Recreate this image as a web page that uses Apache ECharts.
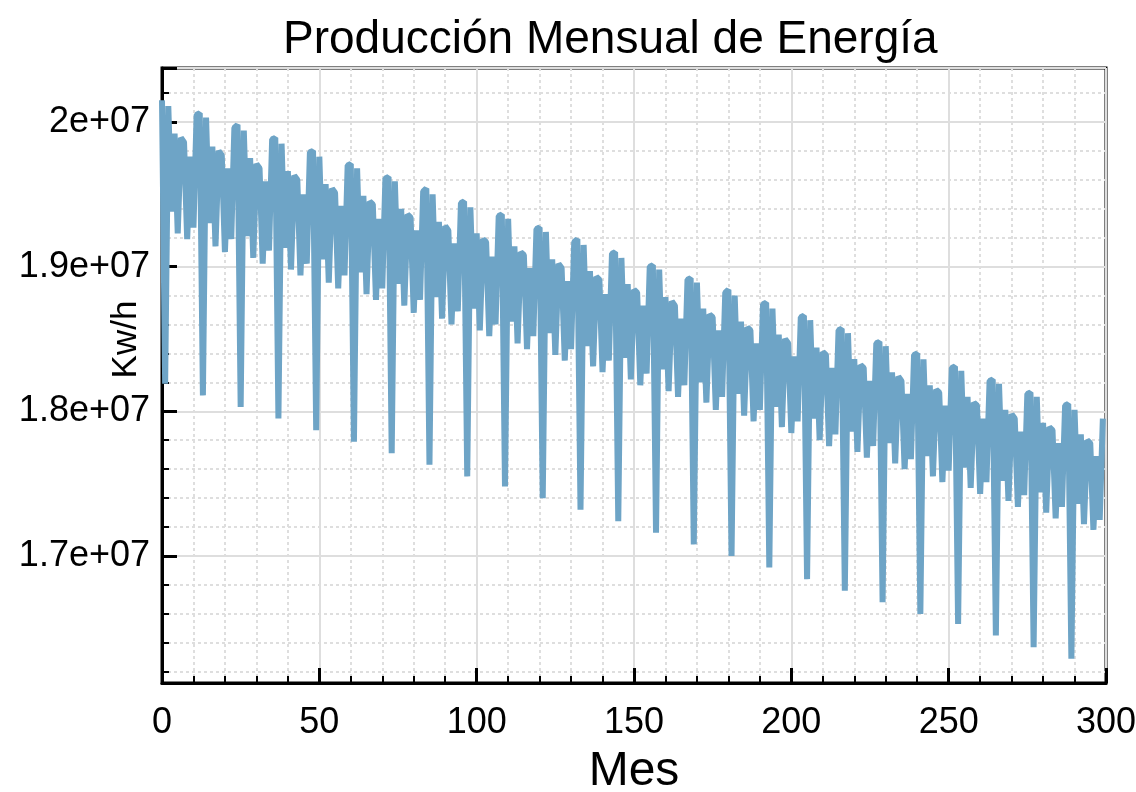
<!DOCTYPE html>
<html>
<head>
<meta charset="utf-8">
<title>Producción Mensual de Energía</title>
<script src="https://cdn.jsdelivr.net/npm/echarts@6/dist/echarts.min.js"></script>
<style>
  html, body { margin: 0; padding: 0; background: #fff; }
  #chart { width: 1136px; height: 792px; }
</style>
</head>
<body>
<div id="chart"></div>
<script>
// producción mensual en millones de Kw/h, una fila por año (mes 0 = enero)
const produccionMillones = [
  [20.15, 18.19, 20.11, 19.38, 19.92, 19.23, 19.89, 19.86, 19.19, 19.76, 19.27, 20.05],
  [20.06, 18.11, 20.03, 19.30, 19.83, 19.14, 19.80, 19.77, 19.10, 19.68, 19.19, 19.96],
  [19.98, 18.03, 19.94, 19.21, 19.75, 19.06, 19.71, 19.68, 19.02, 19.59, 19.11, 19.88],
  [19.89, 17.95, 19.85, 19.13, 19.66, 18.98, 19.63, 19.60, 18.94, 19.50, 19.02, 19.79],
  [19.80, 17.87, 19.76, 19.05, 19.57, 18.89, 19.54, 19.51, 18.85, 19.42, 18.94, 19.70],
  [19.71, 17.79, 19.68, 18.96, 19.49, 18.81, 19.45, 19.43, 18.77, 19.33, 18.85, 19.61],
  [19.62, 17.71, 19.59, 18.88, 19.40, 18.73, 19.36, 19.34, 18.68, 19.25, 18.77, 19.52],
  [19.54, 17.63, 19.50, 18.79, 19.31, 18.64, 19.28, 19.25, 18.60, 19.16, 18.69, 19.44],
  [19.45, 17.55, 19.41, 18.71, 19.23, 18.56, 19.19, 19.17, 18.52, 19.07, 18.60, 19.35],
  [19.36, 17.48, 19.33, 18.62, 19.14, 18.47, 19.10, 19.08, 18.43, 18.99, 18.52, 19.26],
  [19.27, 17.40, 19.24, 18.54, 19.05, 18.39, 19.02, 18.99, 18.35, 18.90, 18.43, 19.17],
  [19.19, 17.32, 19.15, 18.45, 18.97, 18.31, 18.93, 18.91, 18.27, 18.81, 18.35, 19.09],
  [19.10, 17.24, 19.06, 18.37, 18.88, 18.22, 18.84, 18.82, 18.18, 18.73, 18.26, 19.00],
  [19.01, 17.16, 18.98, 18.29, 18.79, 18.14, 18.76, 18.73, 18.10, 18.64, 18.18, 18.91],
  [18.92, 17.08, 18.89, 18.20, 18.71, 18.06, 18.67, 18.65, 18.01, 18.56, 18.10, 18.82],
  [18.84, 17.00, 18.80, 18.12, 18.62, 17.97, 18.58, 18.56, 17.93, 18.47, 18.01, 18.74],
  [18.75, 16.92, 18.71, 18.03, 18.53, 17.89, 18.50, 18.47, 17.85, 18.38, 17.93, 18.65],
  [18.66, 16.84, 18.63, 17.95, 18.44, 17.80, 18.41, 18.39, 17.76, 18.30, 17.84, 18.56],
  [18.57, 16.76, 18.54, 17.86, 18.36, 17.72, 18.32, 18.30, 17.68, 18.21, 17.76, 18.47],
  [18.48, 16.68, 18.45, 17.78, 18.27, 17.64, 18.24, 18.21, 17.60, 18.12, 17.67, 18.39],
  [18.40, 16.60, 18.36, 17.69, 18.18, 17.55, 18.15, 18.13, 17.51, 18.04, 17.59, 18.30],
  [18.31, 16.53, 18.28, 17.61, 18.10, 17.47, 18.06, 18.04, 17.43, 17.95, 17.51, 18.21],
  [18.22, 16.45, 18.19, 17.52, 18.01, 17.38, 17.98, 17.95, 17.34, 17.86, 17.42, 18.12],
  [18.13, 16.37, 18.10, 17.44, 17.92, 17.30, 17.89, 17.87, 17.26, 17.78, 17.34, 18.04],
  [18.05, 16.29, 18.01, 17.36, 17.84, 17.22, 17.80, 17.78, 17.18, 17.69, 17.25, 17.95]
];

const yMin = 16122000;
const yMax = 20373000;

const fontFamily = "'Liberation Sans', Arial, sans-serif";

// mes -> valor en Kw/h
const serieData = produccionMillones.flat().map((v, i) => [i, v * 1e6]);

const chart = echarts.init(document.getElementById("chart"));

const option = {
  animation: false,
  backgroundColor: "#fff",
  title: {
    text: "Producción Mensual de Energía",
    left: 278,
    top: 12,
    textStyle: {
      fontFamily: fontFamily,
      fontSize: 46,
      fontWeight: "normal",
      color: "#000",
    },
  },
  grid: {
    left: 162,
    top: 68,
    width: 944,
    height: 615,
    outerBoundsMode: "none",
    containLabel: false,
    show: true,
    backgroundColor: "#fff",
    borderColor: "#000",
    borderWidth: 3,
  },
  xAxis: {
    type: "value",
    min: 0,
    max: 300,
    interval: 50,
    name: "Mes",
    nameLocation: "middle",
    nameGap: 65,
    nameMoveOverlap: false,
    nameTextStyle: { fontFamily: fontFamily, fontSize: 48, color: "#000" },
    axisLine: { onZero: false, lineStyle: { color: "#000", width: 3 } },
    axisTick: { inside: true, length: 15, lineStyle: { color: "#000", width: 3 } },
    minorTick: { show: true, splitNumber: 5, length: 7, lineStyle: { color: "#000", width: 2 } },
    axisLabel: { fontFamily: fontFamily, fontSize: 36, color: "#000", margin: 22 },
    splitLine: { show: true, lineStyle: { color: "#dedede", width: 2 } },
    minorSplitLine: { show: true, lineStyle: { color: "#dedede", width: 2, type: [3, 3] } },
  },
  yAxis: {
    type: "value",
    min: yMin,
    max: yMax,
    name: "Kw/h",
    nameLocation: "middle",
    nameRotate: 90,
    nameGap: 18,
    nameMoveOverlap: false,
    nameTextStyle: { fontFamily: fontFamily, fontSize: 35, color: "#000", padding: [0, 0, 0, 72] },
    axisLine: { show: true, onZero: false, lineStyle: { color: "#000", width: 3 } },
    axisTick: { show: true, inside: true, length: 15, lineStyle: { color: "#000", width: 3 } },
    minorTick: { show: true, splitNumber: 5, length: 7, lineStyle: { color: "#000", width: 2 } },
    axisLabel: {
      fontFamily: fontFamily,
      fontSize: 36,
      color: "#000",
      margin: 12,
      showMinLabel: false,
      showMaxLabel: false,
      formatter: (v) => Math.round((v / 1e7) * 100) / 100 + "e+07",
    },
    splitLine: { show: true, lineStyle: { color: "#dedede", width: 2 } },
    minorSplitLine: { show: true, lineStyle: { color: "#dedede", width: 2, type: [3, 3] } },
  },
  series: [
    {
      name: "Producción",
      type: "line",
      data: serieData,
      showSymbol: false,
      clip: true,
      lineStyle: { color: "#6ea4c6", width: 6, join: "bevel" },
    },
  ],
};

chart.setOption(option);
</script>
</body>
</html>
